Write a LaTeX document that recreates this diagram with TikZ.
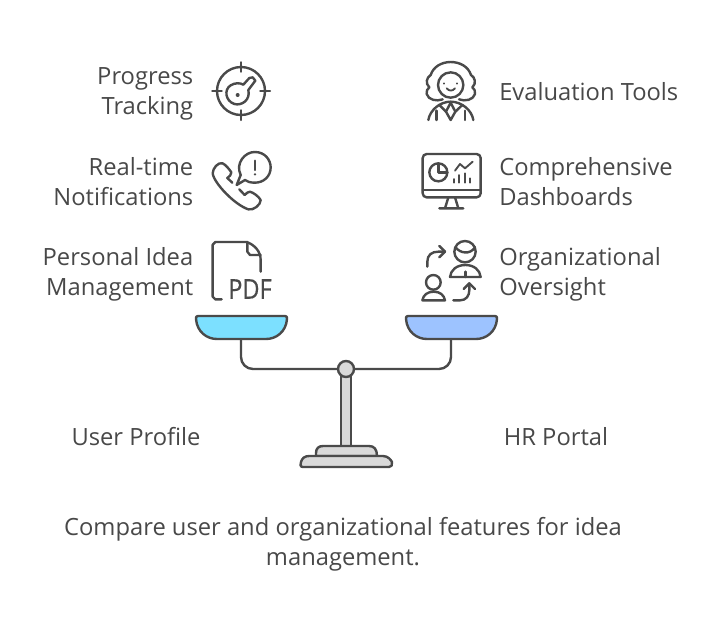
\documentclass[tikz,border=0pt]{standalone}
\usepackage{fontspec}
\setmainfont{Open Sans}
\usepackage{xcolor}
\usetikzlibrary{positioning}
\definecolor{scaleGray}{HTML}{4A4A4A}
\definecolor{scaleFill}{HTML}{D9D9D9}
\definecolor{panCyan}{HTML}{7CE0FF}
\definecolor{panBlue}{HTML}{9DC3FF}
\definecolor{textGray}{HTML}{484848}
\tikzset{
  left label/.style={anchor=east, align=right, text=textGray, inner sep=0pt,
    font=\fontsize{17.8}{22.5}\selectfont},
  right label/.style={anchor=west, align=left, text=textGray, inner sep=0pt,
    font=\fontsize{17.8}{22.5}\selectfont},
  center label/.style={align=center, text=textGray, inner sep=0pt,
    font=\fontsize{17.8}{22.5}\selectfont},
  icon/.style={draw=scaleGray, line width=1.8pt, line cap=round, line join=round},
  fine icon/.style={draw=scaleGray, line width=1.4pt, line cap=round, line join=round},
  scale part/.style={draw=scaleGray, line width=1.8pt, line join=round},
  beam/.style={draw=scaleGray, line width=1.8pt, rounded corners=9pt},
  pivot/.style={circle, draw=scaleGray, line width=1.8pt, fill=scaleFill,
    minimum size=12pt, inner sep=0pt}
}
\begin{document}
\begin{tikzpicture}[x=0.75pt,y=-0.75pt]
  \useasboundingbox (0,0) rectangle (723,633);

  % labels
  \node[left label] (progress) at (193.5,94) {Progress\\Tracking};
  \node[left label] (realtime) at (193.5,181.5) {Real-time\\Notifications};
  \node[left label] (personal) at (193.5,274) {Personal Idea\\Management};
  \node[right label] (evaluation) at (499,91.5) {Evaluation Tools};
  \node[right label] (dashboards) at (499,181.5) {Comprehensive\\Dashboards};
  \node[right label] (oversight) at (499,274) {Organizational\\Oversight};
  \node[center label] (user) at (136,437) {User Profile};
  \node[center label] (hr) at (556,437) {HR Portal};
  \node[center label] (caption) at (343,544.5) {Compare user and organizational features for idea\\management.};

  % target icon
  \begin{scope}[shift={(200,50)},x=0.25pt,y=-0.25pt]
    \draw[icon] (123,123) circle (72);
    \draw[icon] (123,37) -- (123,65) (123,181) -- (123,210) (37,123) -- (65,123) (181,123) -- (210,123);
    \draw[icon] (130,104) -- (148,84) -- (158,82) -- (166,92) -- (145,120)
      .. controls (152,150) and (125,168) .. (103,162)
      .. controls (75,152) and (72,118) .. (92,106)
      .. controls (105,98) and (120,98) .. (130,104) -- cycle;
    \fill[scaleGray] (113,135) circle (6);
  \end{scope}

  % phone icon
  \begin{scope}[shift={(200,140)},x=0.25pt,y=-0.25pt]
    \draw[icon] (110,135) -- (122,105)
      .. controls (105,70) and (135,35) .. (165,36)
      .. controls (195,36) and (212,60) .. (212,82)
      .. controls (212,110) and (190,128) .. (165,128)
      .. controls (150,128) and (142,125) .. (135,120) -- cycle;
    \draw[icon] (165,62) -- (165,90);
    \fill[scaleGray] (165,103) circle (4);
    \draw[icon] (97,128) -- (82,114) .. controls (88,108) and (95,105) .. (94,97)
      .. controls (88,88) and (78,75) .. (68,70)
      .. controls (55,65) and (38,85) .. (38,100)
      .. controls (42,130) and (105,195) .. (145,208)
      .. controls (160,212) and (182,195) .. (182,180)
      .. controls (175,168) and (160,158) .. (150,155)
      .. controls (143,155) and (140,160) .. (134,165) -- (118,148);
  \end{scope}

  % pdf icon
  \begin{scope}[shift={(200,140)},x=0.25pt,y=-0.25pt]
    \draw[icon] (65,478) -- (46,478) -- (38,470) -- (38,314) -- (46,306) -- (140,306)
      .. controls (165,315) and (182,335) .. (182,360) -- (182,395);
    \draw[icon] (142,306) -- (142,335) -- (150,345) -- (182,345);
  \end{scope}
  \node[text=scaleGray, inner sep=0pt, xscale=0.86,
    font=\fontsize{20.5}{22}\selectfont\addfontfeature{FakeBold=0.5}] (pdf) at (250,289) {PDF};

  % judge icon
  \begin{scope}[shift={(410,50)},x=0.25pt,y=-0.25pt]
    \draw[icon] (122,105) circle (38);
    \draw[icon] (98,148) .. controls (80,155) and (55,150) .. (50,132)
      .. controls (48,122) and (52,118) .. (58,112)
      .. controls (45,100) and (50,82) .. (62,75)
      .. controls (70,50) and (95,36) .. (122,36)
      .. controls (150,36) and (175,50) .. (183,75)
      .. controls (195,82) and (200,100) .. (187,112)
      .. controls (193,118) and (197,122) .. (195,132)
      .. controls (190,150) and (165,155) .. (147,148);
    \draw[icon] (55,210) .. controls (60,180) and (90,155) .. (122,155)
      .. controls (155,155) and (185,180) .. (190,210);
    \draw[icon] (122,158) -- (108,185) -- (122,210) -- (136,185) -- cycle;
    \draw[icon] (88,165) -- (108,185) (157,165) -- (136,185);
    \draw[icon] (80,182) -- (80,210) (165,182) -- (165,210);
    \draw[fine icon] (103,100) -- (103,101) (142,100) -- (142,101);
    \draw[fine icon] (110,115) .. controls (118,124) and (127,124) .. (135,115);
  \end{scope}

  % dashboard icon
  \begin{scope}[shift={(410,140)},x=0.25pt,y=-0.25pt]
    \draw[icon, rounded corners=3pt] (38,42) rectangle (212,172);
    \draw[icon] (38,150) -- (212,150);
    \draw[icon] (115,172) -- (105,205) (135,172) -- (145,205) (88,205) -- (160,205);
    \draw[icon] (85,97) circle (27);
    \draw[icon] (85,70) -- (85,97) -- (112,97);
    \draw[fine icon] (135,92) -- (150,72) -- (165,85) -- (188,65);
    \draw[fine icon] (133,117) -- (133,128) (148,105) -- (148,128) (165,100) -- (165,128) (180,115) -- (180,128);
  \end{scope}

  % oversight icon
  \begin{scope}[shift={(410,140)},x=0.25pt,y=-0.25pt]
    \draw[icon] (165,335) circle (32);
    \draw[icon] (137,322) .. controls (150,340) and (180,345) .. (195,322);
    \draw[icon] (120,411) .. controls (122,390) and (140,375) .. (166,375)
      .. controls (192,375) and (210,390) .. (212,411) -- cycle;
    \draw[icon] (166,395) -- (166,411);
    \draw[icon] (70,427) circle (22);
    \draw[icon] (37,481) .. controls (40,465) and (52,455) .. (71,455)
      .. controls (90,455) and (102,465) .. (105,481) -- cycle;
    \draw[icon] (52,380) -- (52,365) .. controls (52,345) and (65,335) .. (85,335) -- (105,335);
    \draw[icon] (88,318) -- (105,335) -- (88,352);
    \draw[icon] (130,481) -- (150,481) .. controls (168,481) and (178,468) .. (178,450) -- (178,430);
    \draw[icon] (161,447) -- (178,430) -- (195,447);
  \end{scope}

  % scale
  \draw[scale part, fill=scaleFill] (341,370) rectangle (351,447);
  \draw[scale part, fill=scaleFill] (316,456) -- (316,453) .. controls (316,448) and (319,446) .. (323,446)
    -- (369,446) .. controls (374,446) and (377,449) .. (377,456) -- cycle;
  \draw[scale part, fill=scaleFill] (303,467) .. controls (300,467) and (300,464) .. (301,462)
    .. controls (302,458) and (305,456) .. (309,456) -- (383,456)
    .. controls (388,456) and (391,460) .. (392,462) .. controls (392,465) and (392,467) .. (389,467) -- cycle;
  \coordinate (leftdrop) at (241,338.5);
  \coordinate (rightdrop) at (451,338.5);
  \node[pivot] (pivotball) at (346,369) {};
  \draw[beam] (leftdrop) |- (pivotball.west);
  \draw[beam] (rightdrop) |- (pivotball.east);
  \draw[scale part, fill=panCyan] (198,316) -- (285,316) .. controls (287,316) and (287,317) .. (287,319)
    .. controls (286,332) and (276,339) .. (266,339) -- (217,339)
    .. controls (207,339) and (197,332) .. (196,319) .. controls (196,317) and (196,316) .. (198,316) -- cycle;
  \draw[scale part, fill=panBlue] (408,316) -- (495,316) .. controls (497,316) and (497,317) .. (497,319)
    .. controls (496,332) and (486,339) .. (476,339) -- (427,339)
    .. controls (417,339) and (407,332) .. (406,319) .. controls (406,317) and (406,316) .. (408,316) -- cycle;
\end{tikzpicture}
\end{document}
